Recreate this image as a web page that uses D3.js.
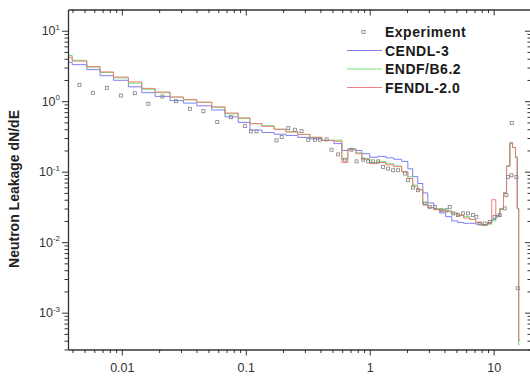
<!DOCTYPE html>
<html>
<head>
<meta charset="utf-8">
<script src="https://cdn.jsdelivr.net/npm/d3@7"></script>
<style>
  body { margin: 0; background: #fff; }
  svg text { font-family: "Liberation Sans", Arial, sans-serif; }
</style>
</head>
<body>
<div id="chart"></div>
<script>
// group boundaries (MeV), shared by the three calculated spectra
var binEdges = [0.00369, 0.00398, 0.00522, 0.00668, 0.00856, 0.0113, 0.0145, 0.01855, 0.0245, 0.0314,
  0.0402, 0.0531, 0.068, 0.087, 0.108, 0.135, 0.169, 0.211, 0.263, 0.329,
  0.411, 0.514, 0.596, 0.666, 0.773, 0.864, 1.0, 1.16, 1.35, 1.56,
  1.81, 2.03, 2.22, 2.44, 2.68, 2.94, 3.29, 3.67, 4.10, 4.59,
  5.13, 5.73, 6.41, 7.16, 8.01, 8.95, 9.64, 10.4, 11.2, 12.0,
  12.7, 13.5, 14.2, 15.0, 15.5, 15.9, 16.2];

var cendl3 = [3.56, 3.3, 2.8, 2.3, 1.98, 1.6, 1.32, 1.17, 1.02, 0.94,
  0.86, 0.75, 0.6, 0.5, 0.39, 0.36, 0.34, 0.327, 0.307, 0.292,
  0.278, 0.25, 0.2, 0.21, 0.2, 0.18, 0.16, 0.165, 0.157, 0.15,
  0.14, 0.11, 0.085, 0.068, 0.05, 0.036, 0.029, 0.026, 0.023, 0.02,
  0.019, 0.0185, 0.0185, 0.018, 0.0178, 0.019, 0.021, 0.024, 0.03, 0.05,
  0.12, 0.25, 0.22, 0.16, 0.03, 0.0004];

var endfb62 = [4.45, 3.8, 3.05, 2.55, 2.15, 1.8, 1.48, 1.32, 1.14, 1.04,
  0.96, 0.82, 0.66, 0.57, 0.48, 0.45, 0.40, 0.367, 0.338, 0.307,
  0.278, 0.28, 0.15, 0.21, 0.185, 0.155, 0.135, 0.14, 0.13, 0.12,
  0.1, 0.085, 0.065, 0.056, 0.036, 0.031, 0.03, 0.029, 0.028, 0.025,
  0.024, 0.023, 0.021, 0.019, 0.0172, 0.018, 0.02, 0.023, 0.03, 0.05,
  0.12, 0.25, 0.22, 0.16, 0.03, 0.00035];

var fendl20 = [4.2, 3.7, 3.1, 2.6, 2.2, 1.88, 1.52, 1.35, 1.15, 1.06,
  0.97, 0.83, 0.68, 0.58, 0.48, 0.44, 0.40, 0.367, 0.338, 0.307,
  0.278, 0.27, 0.135, 0.205, 0.18, 0.15, 0.13, 0.135, 0.125, 0.118,
  0.1, 0.08, 0.062, 0.055, 0.034, 0.031, 0.029, 0.028, 0.027, 0.026,
  0.024, 0.022, 0.021, 0.019, 0.0175, 0.019, 0.04, 0.023, 0.029, 0.05,
  0.12, 0.26, 0.22, 0.16, 0.03, 0.0004];

// measured points
var expEnergy = [0.00455, 0.00584, 0.00757, 0.00982, 0.01273, 0.01638, 0.02124, 0.02738, 0.0355, 0.0455,
  0.0589, 0.076, 0.0985, 0.110, 0.122, 0.177, 0.195, 0.220, 0.249, 0.282,
  0.319, 0.361, 0.396, 0.449, 0.492, 0.556, 0.630, 0.713, 0.783, 0.885,
  0.971, 1.065, 1.169, 1.282, 1.407, 1.544, 1.694, 1.918, 2.039, 2.237,
  2.455, 2.78, 3.05, 3.35, 3.79, 4.16, 4.42, 4.70, 5.16, 5.66,
  6.21, 6.81, 7.25, 7.71, 8.46, 9.29, 10.19, 11.18, 12.27, 12.66,
  13.04, 13.89, 14.0, 15.24, 15.61];

var expValue = [1.706, 1.315, 1.547, 1.204, 1.298, 0.919, 1.166, 1.0, 0.781, 0.722,
  0.505, 0.594, 0.443, 0.373, 0.373, 0.278, 0.310, 0.415, 0.394, 0.376,
  0.284, 0.284, 0.284, 0.287, 0.205, 0.176, 0.148, 0.205, 0.140, 0.148,
  0.140, 0.140, 0.140, 0.1165, 0.1106, 0.1047, 0.1047, 0.094, 0.0755, 0.0596,
  0.0546, 0.0354, 0.0317, 0.0317, 0.0284, 0.0284, 0.0317, 0.0256, 0.0242, 0.0256,
  0.0256, 0.0242, 0.0229, 0.0184, 0.0184, 0.0194, 0.0229, 0.0242, 0.0301, 0.0464,
  0.0841, 0.0889, 0.49, 0.0841, 0.00222];

var xTickValues = [0.01, 0.1, 1, 10];
var xTickLabels = ["0.01", "0.1", "1", "10"];
var yTickValues = [10, 1, 0.1, 0.01, 0.001];
var yTickExps = ["1", "0", "-1", "-2", "-3"];

var seriesNames = ["CENDL-3", "ENDF/B6.2", "FENDL-2.0"];
var seriesValues = [cendl3, endfb62, fendl20];
var seriesColors = ["#7070f0", "#66de66", "#f07272"];

var width = 530;
var height = 379;
var plot = { left: 68, right: 531, top: 9.5, bottom: 349.5 };
var axisColor = "#333";

var svg = d3.select("#chart")
  .append("svg")
  .attr("width", width)
  .attr("height", height);

var xscale = d3.scaleLog()
  .domain([0.00368, 20])
  .range([plot.left, plot.right]);

var yscale = d3.scaleLog()
  .domain([3e-4, 20])
  .range([plot.bottom, plot.top]);

// minor ticks 2..9 in every decade
function minorTicks(domain) {
  var out = [];
  for (var k = -5; k <= 2; k++) {
    for (var m = 2; m <= 9; m++) {
      var v = m * Math.pow(10, k);
      if (v > domain[0] && v < domain[1]) out.push(v);
    }
  }
  return out;
}

svg.append("clipPath")
  .attr("id", "clip")
  .append("rect")
  .attr("x", plot.left)
  .attr("y", plot.top)
  .attr("width", plot.right - plot.left)
  .attr("height", plot.bottom - plot.top);

// step curves
var line = d3.line()
  .x(function (d) { return xscale(d[0]); })
  .y(function (d) { return yscale(d[1]); })
  .curve(d3.curveStepAfter);

seriesValues.forEach(function (vals, i) {
  var pts = vals.map(function (v, j) { return [binEdges[j], v]; });
  pts.push([binEdges[vals.length], vals[vals.length - 1]]);
  svg.append("path")
    .attr("clip-path", "url(#clip)")
    .attr("d", line(pts))
    .attr("fill", "none")
    .attr("stroke", seriesColors[i])
    .attr("stroke-width", 0.9);
});

// experiment points
svg.append("g")
  .selectAll("rect")
  .data(expEnergy.map(function (e, i) { return [e, expValue[i]]; }))
  .enter()
  .append("rect")
  .attr("x", function (d) { return xscale(d[0]) - 1.5; })
  .attr("y", function (d) { return yscale(d[1]) - 1.5; })
  .attr("width", 3)
  .attr("height", 3)
  .attr("fill", "none")
  .attr("stroke", "#808080")
  .attr("stroke-width", 0.8);

function styleAxis(g) {
  g.select(".domain").attr("stroke", axisColor).attr("stroke-width", 1.3);
  g.selectAll(".tick line").attr("stroke", axisColor).attr("stroke-width", 1);
}

// bottom axis
var xBottom = svg.append("g")
  .attr("transform", "translate(0," + plot.bottom + ")")
  .call(d3.axisBottom(xscale).tickValues(xTickValues).tickSize(6).tickSizeOuter(0)
    .tickFormat(function (d, i) { return xTickLabels[i]; }))
  .call(styleAxis);
xBottom.selectAll("text")
  .attr("font-size", 12.5)
  .attr("fill", "#333")
  .attr("dy", "1.1em");
svg.append("g")
  .attr("transform", "translate(0," + plot.bottom + ")")
  .call(d3.axisBottom(xscale).tickValues(minorTicks(xscale.domain())).tickSize(3.5).tickFormat(""))
  .call(styleAxis)
  .select(".domain").remove();

// top axis, ticks hang down like the bottom one
svg.append("g")
  .attr("transform", "translate(0," + plot.top + ")")
  .call(d3.axisBottom(xscale).tickValues(xTickValues).tickSize(6).tickSizeOuter(0).tickFormat(""))
  .call(styleAxis);
svg.append("g")
  .attr("transform", "translate(0," + plot.top + ")")
  .call(d3.axisBottom(xscale).tickValues(minorTicks(xscale.domain())).tickSize(3.5).tickFormat(""))
  .call(styleAxis)
  .select(".domain").remove();

// left axis
var yLeft = svg.append("g")
  .attr("transform", "translate(" + plot.left + ",0)")
  .call(d3.axisLeft(yscale).tickValues(yTickValues).tickSize(6).tickSizeOuter(0).tickFormat(""))
  .call(styleAxis);
yLeft.selectAll(".tick text").each(function (d, i) {
  var t = d3.select(this)
    .attr("font-size", 12.5)
    .attr("fill", "#333")
    .attr("x", -8)
    .attr("dy", "0.32em");
  t.append("tspan").text("10");
  t.append("tspan").attr("font-size", 8).attr("dy", "-0.7em").text(yTickExps[i]);
});
svg.append("g")
  .attr("transform", "translate(" + plot.left + ",0)")
  .call(d3.axisLeft(yscale).tickValues(minorTicks(yscale.domain())).tickSize(3.5).tickFormat(""))
  .call(styleAxis)
  .select(".domain").remove();

// right axis, ticks point left into the plot
svg.append("g")
  .attr("transform", "translate(" + plot.right + ",0)")
  .call(d3.axisLeft(yscale).tickValues(yTickValues).tickSize(6).tickSizeOuter(0).tickFormat(""))
  .call(styleAxis);
svg.append("g")
  .attr("transform", "translate(" + plot.right + ",0)")
  .call(d3.axisLeft(yscale).tickValues(minorTicks(yscale.domain())).tickSize(3.5).tickFormat(""))
  .call(styleAxis)
  .select(".domain").remove();

// y title
svg.append("text")
  .attr("transform", "translate(19,189) rotate(-90)")
  .attr("text-anchor", "middle")
  .attr("font-size", 14)
  .attr("font-weight", "bold")
  .attr("fill", "#222")
  .text("Neutron Leakage dN/dE");

// legend
var legend = svg.append("g").attr("transform", "translate(347,32)");
legend.append("rect")
  .attr("x", 15).attr("y", -1.5)
  .attr("width", 3).attr("height", 3)
  .attr("fill", "none").attr("stroke", "#808080").attr("stroke-width", 0.8);
legend.append("text")
  .attr("x", 38).attr("y", 5)
  .attr("font-size", 14).attr("font-weight", "bold")
  .attr("letter-spacing", 0.5).attr("fill", "#1a1a1a")
  .text("Experiment");
seriesNames.forEach(function (name, i) {
  var yy = 18.5 * (i + 1);
  legend.append("line")
    .attr("x1", 0).attr("x2", 35)
    .attr("y1", yy).attr("y2", yy)
    .attr("stroke", seriesColors[i]).attr("stroke-width", 0.9);
  legend.append("text")
    .attr("x", 38).attr("y", yy + 5)
    .attr("font-size", 14).attr("font-weight", "bold")
    .attr("letter-spacing", 0.5).attr("fill", "#1a1a1a")
    .text(name);
});
</script>
</body>
</html>
